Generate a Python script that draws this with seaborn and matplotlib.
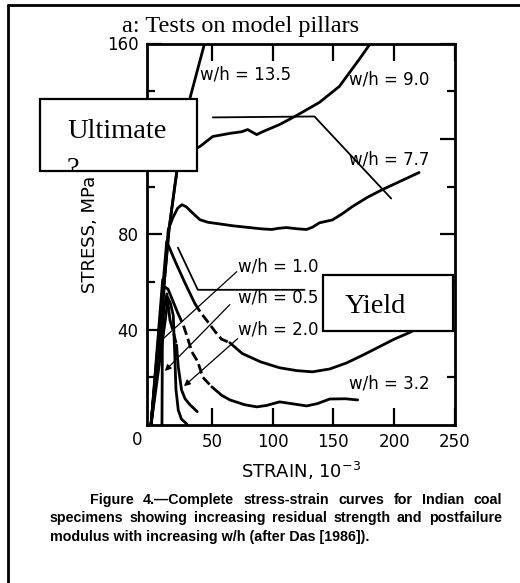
import matplotlib
matplotlib.use("Agg")
import numpy as np
import pandas as pd
from matplotlib import pyplot as plt
from matplotlib.patches import Rectangle
from matplotlib.lines import Line2D
from matplotlib.transforms import Bbox, TransformedBbox
import seaborn as sns

# %% Data
strain_135 = [0, 7.4, 14.8, 21.3, 32, 44.3, 47]
stress_135 = [0, 40, 82, 106.7, 137, 160.5, 167]

strain_90 = [0, 7.4, 14.8, 19.5, 21.5, 25, 31, 40.2, 50.8, 64.8, 74.6, 79.5, 86.9, 91.8,
             105.7, 119.7, 138.5, 154.9, 171.3, 181.1, 185]
stress_90 = [0, 40, 82, 100, 107, 111, 114.5, 116.8, 121, 122.3, 123, 123.9, 121.8, 123,
             126, 129.8, 135.3, 142, 153.4, 160.5, 164]

strain_77 = [0, 7.4, 14.2, 18, 22, 25.4, 29, 34, 40.2, 47, 54.1, 68, 81.1, 90, 99.2, 105,
             111.5, 120, 127.9, 133, 138.5, 149.2, 157, 165.6, 178, 190.2, 204.1, 220.5]
stress_77 = [0, 40, 82, 87, 91, 92.4, 91.5, 89, 86.1, 85, 84.5, 83.5, 82.8, 82.3, 82, 82.5,
             82.8, 82.3, 82, 83, 84.8, 86, 88.5, 91.6, 95.5, 98.7, 102, 105.9]

strain_a = [0, 6, 12.9, 20, 28, 36, 41, 46.7, 53, 58, 64.8, 75, 90, 105.7, 120, 132.8,
            147, 160.7, 175, 187.7, 200, 212.3, 225]
stress_a = [0, 36, 77, 68.5, 59.5, 51, 47, 43.3, 39, 36, 34.5, 30, 26.5, 24, 22.8, 22.3,
            23.5, 26, 29.5, 32.8, 36, 38.7, 42]

strain_b = [0, 5.5, 11, 14, 18, 22, 26.5, 30, 33.6, 38.5, 42.6, 50, 58, 65, 77, 87, 95,
            105.7, 115, 128, 137, 147, 160, 170]
stress_b = [0, 30, 58, 57, 52, 47, 42, 36.6, 30.7, 26.5, 20, 16, 12.5, 10.5, 8.5, 7.6, 8.2,
            9.7, 9, 8, 9, 10.9, 11, 10.5]

strain_05 = [0, 9.6, 9.3, 9.0]
stress_05 = [0, 61, 30, 0]

strain_10 = [0, 12, 13.9, 16, 18.3, 19.5, 20.5, 22.4, 25, 29.3]
stress_10 = [0, 45, 53.4, 51, 46, 30, 15, 6.3, 2.5, 0.5]

strain_20 = [0, 11, 13, 15.6, 18.3, 21, 22.4, 25.1, 28, 32, 38]
stress_20 = [0, 50, 55, 44, 39, 33.6, 24.5, 14.7, 11, 8.5, 5.6]

labels = ["w/h = 13.5", "w/h = 9.0", "w/h = 7.7", "w/h = 1.0",
          "w/h = 0.5", "w/h = 2.0", "w/h = 3.2"]
label_strain = [40.2, 163.1, 163.1, 71.3, 71.3, 71.3, 163.1]
label_stress = [147.1, 145, 111.3, 66.4, 53.4, 39.9, 17.2]

x_ticks = [50, 100, 150, 200, 250]
y_ticks = [40, 80, 120, 160]
y_tick_labels = ["40", "80", "", "160"]  # 120 is hidden under the pasted box
y_minor = [20, 60, 100, 140]

caption = ["Figure 4.\u2014Complete stress-strain curves for Indian coal",
           "specimens showing increasing residual strength and postfailure",
           "modulus with increasing w/h (after Das [1986])."]

W, H = 520, 583


def fx(px):
    return px / W


def fy(py):
    return 1 - py / H


def draw_curve(ax, strain, stress, dashed=None):
    df = pd.DataFrame({"strain": strain, "stress": stress})
    if dashed is None:
        parts = [(df, "-")]
    else:
        i0 = strain.index(dashed[0])
        i1 = strain.index(dashed[1])
        parts = [(df.iloc[:i0 + 1], "-"), (df.iloc[i0:i1 + 1], (0, (3.5, 1.5))),
                 (df.iloc[i1:], "-")]
    for part, ls in parts:
        sns.lineplot(data=part, x="strain", y="stress", sort=False, estimator=None,
                     color="black", lw=2, linestyle=ls, ax=ax)


def justify(fig, text, py, x0, x1, fs):
    words = text.split()
    objs = [fig.text(0, fy(py), w, fontsize=fs, weight="bold", va="center",
                     family="Liberation Sans") for w in words]
    r = fig.canvas.get_renderer()
    widths = [t.get_window_extent(r).width for t in objs]
    gap = (x1 - x0 - sum(widths)) / (len(words) - 1)
    x = x0
    for t, w in zip(objs, widths):
        t.set_x(fx(x))
        x += w + gap


# %% Plot
def main():
    sns.set_theme(style="white")
    plt.rcParams["font.family"] = ["DejaVu Sans"]
    plt.rcParams["mathtext.default"] = "regular"
    plt.rcParams["text.color"] = "black"
    plt.rcParams["axes.labelcolor"] = "black"

    fig = plt.figure(figsize=(5.2, 5.83), dpi=100)
    ax = fig.add_axes([fx(147), fy(425), (455 - 147) / W, (425 - 43.5) / H])

    draw_curve(ax, strain_135, stress_135)
    draw_curve(ax, strain_90, stress_90)
    draw_curve(ax, strain_77, stress_77)
    draw_curve(ax, strain_a, stress_a, dashed=(36, 64.8))
    draw_curve(ax, strain_b, stress_b, dashed=(22, 50))
    draw_curve(ax, strain_05, stress_05)
    draw_curve(ax, strain_10, stress_10)
    draw_curve(ax, strain_20, stress_20, dashed=(15.6, 21))

    ax.set_xlim(-3.3, 249.5)
    ax.set_ylim(0, 160)
    ax.set_xticks(x_ticks)
    ax.set_xticklabels([str(v) for v in x_ticks])
    ax.set_yticks(y_ticks)
    ax.set_yticklabels(y_tick_labels)
    ax.set_yticks(y_minor, minor=True)
    ax.tick_params(axis="x", which="major", direction="in", length=12, width=1.6,
                   top=True, bottom=True, labelsize=12, pad=6, colors="black")
    ax.tick_params(axis="y", which="major", direction="in", length=11, width=1.6,
                   left=True, right=True, labelsize=12, pad=6, colors="black")
    ax.tick_params(axis="y", which="minor", direction="in", length=6, width=1.6,
                   left=True, right=True, colors="black")
    for sp in ax.spines.values():
        sp.set_visible(True)
        sp.set_color("black")
        sp.set_linewidth(2)
    ax.grid(False)
    ax.set_xlabel("STRAIN, 10$^{-3}$", fontsize=13, labelpad=6, color="black")
    ax.set_ylabel("STRESS, MPa", fontsize=13, labelpad=6, color="black")
    fig.text(fx(137), fy(440), "0", fontsize=12, ha="center", va="center")

    # curve labels and leader lines
    for lab, xs, ys in zip(labels, label_strain, label_stress):
        ax.text(xs, ys, lab, fontsize=12, ha="left", va="center")
    ax.plot([70.5, 9.0], [64.3, 35.7], color="black", lw=0.9)
    ax.annotate("", xy=(9.8, 21.8), xytext=(66.4, 51.3),
                arrowprops=dict(arrowstyle="-|>", lw=0.9, color="black", mutation_scale=9))
    ax.annotate("", xy=(25.4, 15.5), xytext=(73, 37),
                arrowprops=dict(arrowstyle="-|>", lw=0.9, color="black", mutation_scale=9))

    # pointers for the pasted boxes
    ax.plot([50.8, 134.4, 197.5], [129, 129.4, 95], color="black", lw=1.3)
    ax.plot([126.2, 38.5, 22.1], [56.7, 56.7, 74.4], color="black", lw=1.3)

    ult = Rectangle((fx(40), fy(171)), 157 / W, 72 / H, transform=fig.transFigure,
                    facecolor="white", edgecolor="black", lw=1.6, zorder=10, clip_on=False)
    yld = Rectangle((fx(323), fy(331)), 130 / W, 56 / H, transform=fig.transFigure,
                    facecolor="white", edgecolor="black", lw=1.6, zorder=10, clip_on=False)
    ax.add_patch(ult)
    ax.add_patch(yld)
    serif = "Liberation Serif"
    ax.text(fx(67), fy(138), "Ultimate", transform=fig.transFigure, family=serif,
            fontsize=20.5, ha="left", va="baseline", zorder=11, clip_on=False)
    q = ax.text(fx(67), fy(176), "?", transform=fig.transFigure, family=serif,
                fontsize=20.5, ha="left", va="baseline", zorder=11)
    q.set_clip_box(TransformedBbox(Bbox.from_extents(fx(40), fy(170), fx(197), fy(99)),
                                   fig.transFigure))
    q.set_clip_on(True)
    ax.text(fx(345), fy(313), "Yield", transform=fig.transFigure, family=serif,
            fontsize=20.5, ha="left", va="baseline", zorder=11, clip_on=False)

    fig.text(fx(241), fy(32), "a: Tests on model pillars", family=serif, fontsize=17.5,
             ha="center", va="baseline")

    # page frame
    fig.add_artist(Line2D([fx(8), 1], [fy(5), fy(5)], color="black", lw=2))
    fig.add_artist(Line2D([fx(8), fx(8)], [fy(5), 0], color="black", lw=2))

    justify(fig, caption[0], 500, 90, 502, 10.3)
    justify(fig, caption[1], 518, 50, 502, 10.3)
    fig.text(fx(50), fy(537), caption[2], fontsize=10.3, weight="bold", va="center",
             family="Liberation Sans")

    fig.savefig("out.png", dpi=100, facecolor="white")


if __name__ == '__main__':
    main()
